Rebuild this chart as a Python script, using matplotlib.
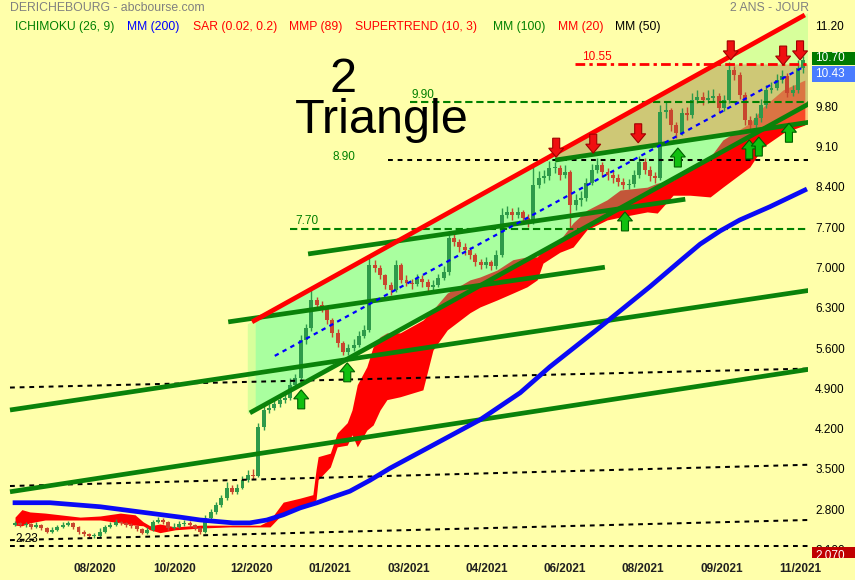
import numpy as np
import matplotlib
matplotlib.use('Agg')
import matplotlib.pyplot as plt
from matplotlib.patches import Polygon, Rectangle

plt.rcParams['font.family'] = ['Liberation Sans', 'DejaVu Sans']

W, H = 855, 580
BG = '#FFFFAA'

# ---- daily candles (bar index 0..149) ----
first_open = 2.56
closes = [2.58, 2.55, 2.57, 2.52, 2.55, 2.50, 2.44, 2.47, 2.52, 2.55,
          2.58, 2.51, 2.43, 2.40, 2.36, 2.37, 2.44, 2.52, 2.56, 2.60,
          2.58, 2.55, 2.53, 2.48, 2.42, 2.47, 2.60, 2.64, 2.60, 2.50,
          2.52, 2.57, 2.59, 2.55, 2.50, 2.43, 2.68, 2.78, 2.90, 3.02,
          3.20, 3.13, 3.20, 3.34, 3.42, 3.40, 4.26, 4.55, 4.59, 4.65,
          4.72, 4.76, 4.98, 5.11, 5.77, 5.97, 6.46, 6.37, 6.32, 6.11,
          5.89, 5.71, 5.56, 5.63, 5.68, 5.84, 5.94, 7.07, 7.02, 6.89,
          6.72, 6.63, 7.07, 6.81, 6.76, 6.74, 6.83, 6.77, 6.69, 6.72,
          6.84, 6.95, 7.54, 7.47, 7.38, 7.33, 7.24, 7.12, 7.07, 7.12,
          7.05, 7.24, 7.94, 7.99, 7.94, 7.99, 7.88, 7.81, 8.46, 8.58,
          8.61, 8.75, 8.75, 8.63, 8.68, 8.11, 8.20, 8.23, 8.49, 8.72,
          8.80, 8.68, 8.63, 8.58, 8.51, 8.46, 8.47, 8.63, 8.86, 8.72,
          8.61, 8.58, 9.72, 9.76, 9.50, 9.36, 9.71, 9.67, 9.93, 9.98,
          9.93, 9.97, 10.00, 9.79, 9.93, 10.45, 10.37, 10.02, 9.59, 9.50,
          9.62, 9.85, 10.11, 10.14, 10.28, 10.35, 10.05, 10.11, 10.49, 10.62]
highs = [2.62, 2.61, 2.60, 2.59, 2.60, 2.57, 2.52, 2.51, 2.56, 2.60,
         2.63, 2.60, 2.53, 2.46, 2.42, 2.41, 2.50, 2.55, 2.60, 2.66,
         2.63, 2.60, 2.58, 2.55, 2.50, 2.52, 2.64, 2.70, 2.67, 2.62,
         2.58, 2.62, 2.64, 2.62, 2.57, 2.52, 2.72, 2.83, 2.95, 3.08,
         3.30, 3.24, 3.26, 3.40, 3.50, 3.52, 4.32, 4.62, 4.66, 4.72,
         4.78, 4.85, 5.10, 5.18, 5.85, 6.05, 6.68, 6.52, 6.45, 6.36,
         6.15, 5.95, 5.75, 5.70, 5.78, 5.92, 6.02, 7.20, 7.15, 7.06,
         6.92, 6.78, 7.15, 7.10, 6.90, 6.83, 6.92, 6.90, 6.82, 6.80,
         6.92, 7.05, 7.65, 7.62, 7.52, 7.45, 7.38, 7.28, 7.18, 7.20,
         7.16, 7.32, 8.05, 8.10, 8.05, 8.08, 8.02, 7.95, 8.80, 8.70,
         8.72, 8.88, 8.86, 8.80, 8.80, 8.72, 8.30, 8.35, 8.58, 8.82,
         8.92, 8.85, 8.76, 8.70, 8.64, 8.58, 8.56, 8.72, 8.96, 8.92,
         8.78, 8.68, 9.85, 9.92, 9.80, 9.55, 9.80, 9.82, 10.05, 10.10,
         10.08, 10.10, 10.12, 10.05, 10.02, 10.60, 10.52, 10.42, 10.08, 9.65,
         9.70, 9.95, 10.20, 10.25, 10.38, 10.45, 10.40, 10.20, 10.62, 10.70]
lows = [2.53, 2.52, 2.52, 2.49, 2.50, 2.47, 2.41, 2.42, 2.45, 2.50,
        2.53, 2.48, 2.40, 2.37, 2.33, 2.33, 2.35, 2.42, 2.50, 2.54,
        2.55, 2.52, 2.50, 2.45, 2.39, 2.40, 2.45, 2.58, 2.57, 2.47,
        2.48, 2.50, 2.54, 2.52, 2.47, 2.39, 2.41, 2.65, 2.75, 2.86,
        2.98, 3.09, 3.10, 3.17, 3.30, 3.35, 3.38, 4.20, 4.50, 4.55,
        4.60, 4.68, 4.72, 4.95, 5.05, 5.70, 5.92, 6.30, 6.25, 6.05,
        5.82, 5.65, 5.50, 5.50, 5.58, 5.64, 5.80, 5.90, 6.95, 6.82,
        6.65, 6.55, 6.60, 6.75, 6.70, 6.66, 6.70, 6.68, 6.62, 6.64,
        6.68, 6.80, 6.90, 7.40, 7.30, 7.25, 7.18, 7.05, 7.00, 7.02,
        6.98, 7.00, 7.20, 7.88, 7.85, 7.88, 7.80, 7.72, 7.78, 8.40,
        8.50, 8.55, 8.66, 8.55, 8.58, 7.70, 8.02, 8.10, 8.18, 8.45,
        8.66, 8.60, 8.55, 8.50, 8.44, 8.38, 8.38, 8.42, 8.58, 8.65,
        8.52, 8.50, 8.55, 9.62, 9.40, 9.28, 9.32, 9.58, 9.62, 9.88,
        9.85, 9.88, 9.90, 9.72, 9.75, 9.88, 10.28, 9.95, 9.50, 9.38,
        9.42, 9.55, 9.80, 10.05, 10.10, 10.22, 9.98, 10.00, 10.05, 10.40]

date_ticks = [15.1, 30.1, 44.8, 59.5, 74.5, 89.2, 104.0, 118.7, 133.6, 148.4]
date_labels = ['08/2020', '10/2020', '12/2020', '01/2021', '03/2021',
               '04/2021', '06/2021', '08/2021', '09/2021', '11/2021']

price_ticks = [11.2, 9.8, 9.1, 8.4, 7.7, 7.0, 6.3, 5.6, 4.9, 4.2, 3.5, 2.8, 2.1]
price_labels = ['11.20', '9.80', '9.10', '8.400', '7.700', '7.000', '6.300',
                '5.600', '4.900', '4.200', '3.500', '2.800', '2.100']

# MM 200
mm200_x = [0, 6.6, 16.1, 23.6, 31.2, 35.0, 41.2, 44.4, 47.6, 50.7, 53.9, 57.1,
           59.5, 63.3, 67.1, 70.9, 78.4, 87.9, 95.5, 101.1, 110.6, 120.0,
           126.0, 129.5, 133.3, 137.0, 142.7, 149.3]
mm200_y = [2.94, 2.94, 2.87, 2.78, 2.69, 2.64, 2.59, 2.59, 2.64, 2.73, 2.85,
           2.94, 3.02, 3.14, 3.33, 3.54, 3.91, 4.38, 4.85, 5.30, 5.99, 6.69,
           7.16, 7.43, 7.66, 7.85, 8.08, 8.37]

# Ichimoku cloud
cloud_x = [0, 1.3, 2.8, 5.7, 12.3, 16.1, 19.9, 22.7, 24.2, 25.5, 27.4, 30.3,
           35.0, 40.6, 46.3, 48.2, 50.7, 53.9, 56.3, 56.9, 57.3, 59.6, 60.9,
           62.8, 63.7, 64.7, 66.5, 67.7, 69.0, 70.3, 72.8, 77.1, 79.0, 81.7,
           86.0, 87.9, 91.1, 94.1, 96.8, 98.7, 99.8, 103.0, 105.5, 108.1,
           111.9, 114.4, 119.5, 121.4, 124.4, 127.6, 131.4, 133.8, 138.9,
           141.4, 145.2, 149.3]
cloud_top = [2.69, 2.82, 2.78, 2.76, 2.69, 2.71, 2.76, 2.73, 2.61, 2.54, 2.57,
             2.52, 2.55, 2.55, 2.55, 2.64, 2.95, 3.02, 3.08, 3.51, 3.74, 3.80,
             4.15, 4.33, 4.55, 4.99, 5.30, 5.65, 5.82, 5.89, 5.89, 6.11, 6.29,
             6.58, 6.81, 6.86, 6.98, 7.16, 7.21, 7.21, 7.33, 7.50, 7.80, 8.02,
             8.20, 8.37, 8.42, 8.49, 8.54, 8.72, 8.94, 9.24, 9.53, 9.81, 10.11,
             10.28]
cloud_bot = [2.55, 2.54, 2.59, 2.64, 2.64, 2.64, 2.59, 2.55, 2.54, 2.47, 2.42,
             2.47, 2.50, 2.52, 2.52, 2.52, 2.76, 2.85, 2.94, 2.99, 3.34, 3.56,
             3.91, 3.94, 4.12, 3.91, 4.20, 4.29, 4.55, 4.73, 4.78, 4.90, 5.59,
             5.94, 6.24, 6.34, 6.46, 6.58, 6.69, 6.81, 7.10, 7.29, 7.38, 7.68,
             7.85, 7.90, 7.99, 7.97, 8.28, 8.28, 8.25, 8.42, 8.77, 9.12, 9.36,
             9.50]

# trend lines (x0, y0, x1, y1)
red_line = (44.8, 6.08, 149.3, 11.41)
chan_low = (44.4, 4.50, 150.3, 9.88)
tri_low = (102.1, 8.89, 150.3, 9.55)
green_lines = [(40.3, 6.08, 111.5, 7.03), (55.4, 7.26, 126.7, 8.21),
               (-0.95, 4.55, 150.3, 6.63), (-0.95, 3.13, 150.3, 5.26),
               chan_low, tri_low]
black_dashed = [(-0.95, 4.94, 150.3, 5.27), (-0.95, 3.23, 150.3, 3.60),
                (-0.95, 2.29, 149.9, 2.64), (-0.95, 2.19, 149.9, 2.19),
                (70.5, 8.90, 149.9, 8.90)]
green_levels = [(74.7, 9.90), (52.0, 7.70)]
resist_level = (105.9, 10.55)
reg_line = (49.1, 5.49, 149.3, 10.52)

down_x = [102.3, 109.3, 117.8, 135.3, 145.2, 148.4]
down_y = [8.94, 9.01, 9.19, 10.63, 10.54, 10.63]
up_x = [54.1, 62.8, 115.3, 125.3, 138.8, 140.6, 146.3]
up_y = [4.90, 5.37, 7.99, 9.10, 9.24, 9.29, 9.53]

XMIN, XMAX = -2.84, 149.9
YMIN, YMAX = 1.98, 11.67


def line_at(seg, x):
    x0, y0, x1, y1 = seg
    return y0 + (np.asarray(x, dtype=float) - x0) * (y1 - y0) / (x1 - x0)


fig = plt.figure(figsize=(W / 100, H / 100), dpi=100, facecolor=BG)
ax = fig.add_axes([0, 22 / H, 808 / W, 558 / H])
ax.set_facecolor(BG)
ax.set_xlim(XMIN, XMAX)
ax.set_ylim(YMIN, YMAX)
for s in ax.spines.values():
    s.set_visible(False)
ax.set_yticks([])
ax.set_xticks(date_ticks)
ax.set_xticklabels(date_labels, fontsize=8.5, fontweight='bold', color='#202020')
ax.tick_params(axis='x', length=0, pad=3.5)

# channel zones
x_hit = red_line[0] + (resist_level[1] - red_line[1]) * (red_line[2] - red_line[0]) / (red_line[3] - red_line[1])
xa, xb = 44.0, 150.3
ax.add_patch(Polygon([(xa, line_at(chan_low, xa)), (xa, line_at(red_line, xa)),
                      (xb, line_at(red_line, xb)), (xb, line_at(chan_low, xb))],
                     closed=True, fc='#D7FF9B', ec='none', zorder=1))

# candles
c = np.array(closes)
o = np.array([first_open] + closes[:-1])
idx = np.arange(len(c))
col = np.where(c >= o, '#2E9A4A', '#C8462E')
ax.vlines(idx, lows, highs, colors=col, lw=1.0, zorder=2)
ax.bar(idx, np.maximum(np.abs(c - o), 0.015), bottom=np.minimum(o, c), width=0.75,
       color=col, lw=0, zorder=2)

# ichimoku cloud
ax.fill_between(cloud_x, cloud_bot, cloud_top, color='#FF0000', lw=0, zorder=1.5)

xg = 45.5
ax.add_patch(Polygon([(xg, line_at(chan_low, xg)), (xg, line_at(red_line, xg)),
                      (x_hit, resist_level[1]), (xb, resist_level[1]), (xb, line_at(chan_low, xb))],
                     closed=True, fc='#50FFA8', alpha=0.34, ec='none', zorder=1.8))
xt = tri_low[0]
ax.add_patch(Polygon([(xt, line_at(tri_low, xt)), (xt, line_at(red_line, xt)),
                      (x_hit, resist_level[1]), (xb, resist_level[1]), (xb, line_at(tri_low, xb))],
                     closed=True, fc='#F4924E', alpha=0.5, ec='none', zorder=1.9))

# levels
for seg in black_dashed:
    ax.plot([seg[0], seg[2]], [seg[1], seg[3]], color='black', lw=1.45,
            ls=(0, (2.4, 2.4)), zorder=5)
for x0, lvl in green_levels:
    ax.plot([x0, XMAX], [lvl, lvl], color='#008000', lw=1.5, ls=(0, (3.5, 1.8)), zorder=5)
ax.plot([resist_level[0], XMAX], [resist_level[1]] * 2, color='#FF0000', lw=2,
        ls=(0, (3.5, 1.5, 1.2, 1.5)), zorder=5)

# trend lines
for seg in green_lines:
    ax.plot([seg[0], seg[2]], [seg[1], seg[3]], color='#0A820A', lw=3.4,
            solid_capstyle='butt', zorder=5.5)
ax.plot([red_line[0], red_line[2]], [red_line[1], red_line[3]], color='#FF0000', lw=3.4,
        solid_capstyle='butt', zorder=5.5)
ax.plot(mm200_x, mm200_y, color='#0A0AF5', lw=3.4, zorder=6, solid_joinstyle='round')
ax.plot([reg_line[0], reg_line[2]], [reg_line[1], reg_line[3]], color='#0000FF', lw=1.6,
        ls=(0, (2, 2)), zorder=6)

# signal arrows
sx = (XMAX - XMIN) / 808.0
sy = (YMAX - YMIN) / 558.0
shape = [(0, 0), (7.5, 9), (3.5, 9), (3.5, 19), (-3.5, 19), (-3.5, 9), (-7.5, 9)]


def arrow(x, y, d, fc, ec):
    verts = [(x + px * sx, y + d * py * sy) for px, py in shape]
    ax.add_patch(Polygon(verts, closed=True, fc=fc, ec=ec, lw=0.8, zorder=8))


for x, y in zip(down_x, down_y):
    arrow(x, y, 1, '#F01010', '#A00000')
for x, y in zip(up_x, up_y):
    arrow(x, y, -1, '#10C010', '#006000')

# level labels
ax.text(107.2, 10.57, '10.55', color='#FF0000', fontsize=8.5, va='bottom', ha='left', zorder=9)
ax.text(75.0, 9.92, '9.90', color='#008000', fontsize=8.5, va='bottom', ha='left', zorder=9)
ax.text(60.1, 8.95, '8.90', color='#008000', fontsize=8.5, va='center', ha='left', zorder=9)
ax.text(52.9, 7.72, '7.70', color='#008000', fontsize=8.5, va='bottom', ha='left', zorder=9)
ax.text(0.0, 2.31, '2.23', color='black', fontsize=8.5, va='center', ha='left', zorder=9)

# big title
fig.text(343 / W, 1 - 92 / H, '2', fontsize=35, ha='center', va='baseline', color='black')
fig.text(382 / W, 1 - 133 / H, 'Triangle', fontsize=35, ha='center', va='baseline', color='black')

# header
fig.text(10 / W, 1 - 8 / H, 'DERICHEBOURG - abcbourse.com', fontsize=8.8, color='#808080',
         ha='left', va='center')
fig.text(809 / W, 1 - 8 / H, '2 ANS - JOUR', fontsize=8.8, color='#808080', ha='right', va='center')
legend = [('ICHIMOKU (26, 9)', '#008000', 15), ('MM (200)', '#0000FF', 127),
          ('SAR (0.02, 0.2)', '#FF0000', 193), ('MMP (89)', '#FF0000', 289),
          ('SUPERTREND (10, 3)', '#FF0000', 355), ('MM (100)', '#008000', 493),
          ('MM (20)', '#FF0000', 558), ('MM (50)', '#000000', 615)]
for name, color, px in legend:
    fig.text(px / W, 1 - 27 / H, name, fontsize=8.7, color=color, ha='left', va='center')

# right price scale
axr = fig.add_axes([808 / W, 22 / H, 47 / W, 558 / H])
axr.set_facecolor(BG)
axr.set_xlim(0, 1)
axr.set_ylim(YMIN, YMAX)
axr.axis('off')
for v, lab in zip(price_ticks, price_labels):
    axr.text(0.15, v, lab, fontsize=8.5, color='black', va='center', ha='left', zorder=1)
axr.add_patch(Rectangle((0.085, 10.54), 1, 0.226, fc='#007A00', ec='none', zorder=3))
axr.text(0.15, 10.655, '10.70', fontsize=8.5, color='white', va='center', ha='left', zorder=4)
axr.add_patch(Rectangle((0.085, 10.245), 1, 0.278, fc='#4A7CFF', ec='none', zorder=3))
axr.text(0.15, 10.385, '10.43', fontsize=8.5, color='white', va='center', ha='left', zorder=4)
axr.add_patch(Rectangle((0.085, 1.9), 1, 0.272, fc='#C00000', ec='none', zorder=3))
axr.text(0.15, 2.02, '2.070', fontsize=8.5, color='white', va='center', ha='left', zorder=4,
         clip_on=True)

fig.savefig('out.png', dpi=100, facecolor=BG)
